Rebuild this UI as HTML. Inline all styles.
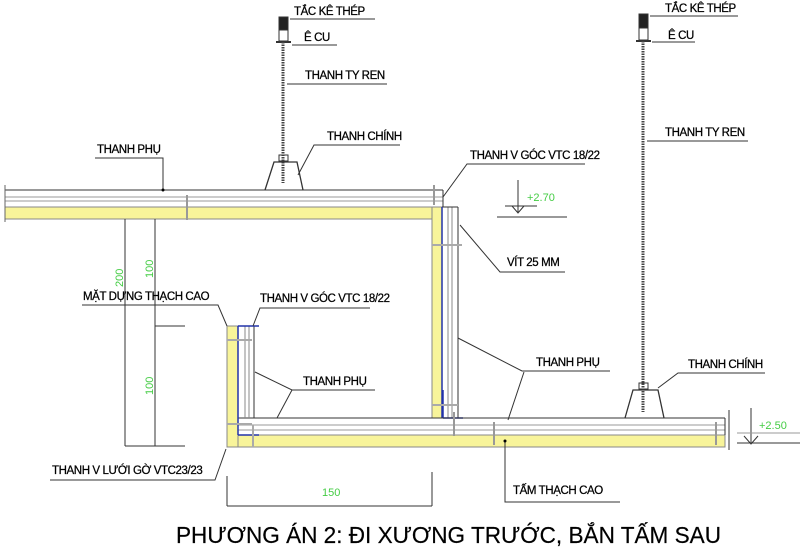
<!DOCTYPE html>
<html><head><meta charset="utf-8"><style>
html,body{margin:0;padding:0;background:#fff;}
svg{display:block;}
text{font-family:"Liberation Sans",sans-serif;font-size:11.5px;fill:#000;letter-spacing:-0.4px;stroke:#000;stroke-width:0.25px;}
.g{fill:#4c4;stroke:none;font-size:11px;letter-spacing:0;}
</style></head><body>
<svg width="800" height="557" viewBox="0 0 800 557" xmlns="http://www.w3.org/2000/svg">
<g stroke="#333" stroke-width="1" fill="none">
<rect x="5" y="207" width="432" height="12" fill="#f8f49a" stroke="#888"/>
<line x1="5" y1="190" x2="443" y2="190"/>
<line x1="5" y1="197" x2="443" y2="197" stroke="#999"/>
<line x1="5" y1="201" x2="443" y2="201" stroke="#999"/>
<line x1="443" y1="190" x2="443" y2="207"/>
<line x1="5" y1="185" x2="5" y2="222" stroke="#666"/>
<line x1="187" y1="195" x2="187" y2="220" stroke="#999" stroke-width="2"/>
<line x1="434" y1="185" x2="434" y2="205" stroke="#999" stroke-width="2"/>
<rect x="432" y="207" width="10" height="211" fill="#f8f49a" stroke="#888"/>
<line x1="448" y1="207" x2="448" y2="418" stroke="#888"/>
<line x1="452" y1="207" x2="452" y2="418" stroke="#888"/>
<line x1="458" y1="207" x2="458" y2="418"/>
<line x1="442" y1="207" x2="458" y2="207"/>
<line x1="442" y1="207" x2="442" y2="418" stroke="#2233aa" stroke-width="1.5"/>
<line x1="443" y1="390" x2="443" y2="418" stroke="#2233aa" stroke-width="1.5"/>
<line x1="443" y1="418" x2="463" y2="418" stroke="#2233aa" stroke-width="1.5"/>
<line x1="432" y1="245" x2="462" y2="245" stroke="#aaa" stroke-width="2"/>
<line x1="432" y1="405" x2="458" y2="405" stroke="#aaa" stroke-width="2"/>
<rect x="227" y="435" width="498" height="12" fill="#f8f49a" stroke="#888"/>
<line x1="238" y1="418" x2="725" y2="418"/>
<line x1="238" y1="425" x2="725" y2="425" stroke="#999"/>
<line x1="238" y1="430" x2="725" y2="430" stroke="#999"/>
<line x1="725" y1="418" x2="725" y2="435"/>
<line x1="494" y1="422" x2="494" y2="445" stroke="#999" stroke-width="2"/>
<line x1="454" y1="412" x2="454" y2="436" stroke="#999" stroke-width="2"/>
<line x1="716" y1="422" x2="716" y2="445" stroke="#999" stroke-width="2"/>
<line x1="729" y1="410" x2="729" y2="450"/>
<rect x="227" y="326" width="11" height="121" fill="#f8f49a" stroke="#888"/>
<line x1="245" y1="326" x2="245" y2="418" stroke="#888"/>
<line x1="249" y1="326" x2="249" y2="418" stroke="#888"/>
<line x1="254" y1="326" x2="254" y2="418"/>
<line x1="238" y1="326" x2="238" y2="435" stroke="#2233aa" stroke-width="1.5"/>
<line x1="238" y1="326" x2="259" y2="326" stroke="#2233aa" stroke-width="1.5"/>
<line x1="238" y1="435" x2="259" y2="435" stroke="#2233aa" stroke-width="1.5"/>
<line x1="227" y1="340" x2="252" y2="340" stroke="#aaa" stroke-width="2"/>
<line x1="227" y1="424" x2="252" y2="424" stroke="#aaa" stroke-width="2"/>
<line x1="253" y1="425" x2="253" y2="447" stroke="#aaa" stroke-width="2"/>
<rect x="279" y="17" width="9" height="13" fill="#222"/>
<rect x="279" y="30" width="9" height="11" fill="#fff"/>
<line x1="276" y1="42" x2="291" y2="42" stroke-width="2"/>
<line x1="283" y1="42" x2="283" y2="183" stroke="#444" stroke-width="3" stroke-dasharray="1.5 1"/>
<path d="M265 190 L274 162 L297 162 L303 190" stroke-width="1.3"/>
<rect x="279" y="155" width="9" height="6" stroke-width="1"/>
<rect x="639" y="14" width="9" height="14" fill="#222"/>
<rect x="639" y="28" width="9" height="12" fill="#fff"/>
<line x1="636" y1="41" x2="651" y2="41" stroke-width="2"/>
<line x1="643" y1="41" x2="643" y2="412" stroke="#444" stroke-width="3" stroke-dasharray="1.5 1"/>
<path d="M625 418 L633 390 L658 390 L664 418" stroke-width="1.3"/>
<rect x="639" y="383" width="9" height="6"/>
<polyline points="290,19 375,19"/>
<polyline points="292,45 337,45"/>
<polyline points="287,84 387,84"/>
<polyline points="298,175 314,145 400,145"/>
<polyline points="650,16 738,16"/>
<polyline points="652,42 695,42"/>
<polyline points="647,141 748,141"/>
<polyline points="658,388 678,373 765,373"/>
<polyline points="163,190 163,158 95,158"/>
<polyline points="443,197 467,164 585,164"/>
<polyline points="460,225 500,272 565,272"/>
<polyline points="458,338 522,371 610,371"/>
<polyline points="508,420 524,372"/>
<polyline points="255,372 292,390 375,390"/>
<polyline points="277,418 292,390"/>
<polyline points="227,326 218,305 82,305"/>
<polyline points="253,326 260,308 370,308"/>
<polyline points="226,449 215,480 50,480"/>
<polyline points="505,441 505,502 620,502"/>
<line x1="125" y1="219" x2="125" y2="446"/>
<line x1="155" y1="219" x2="155" y2="446"/>
<line x1="155" y1="326" x2="185" y2="326"/>
<line x1="125" y1="446" x2="185" y2="446"/>
<line x1="227" y1="476" x2="227" y2="506"/>
<line x1="432" y1="472" x2="432" y2="506"/>
<line x1="227" y1="506" x2="432" y2="506"/>
<line x1="518" y1="180" x2="518" y2="212"/>
<line x1="505" y1="206" x2="537" y2="206"/>
<line x1="497" y1="217" x2="567" y2="217"/>
<path d="M512 206 L518 213 L524 206"/>
<line x1="751" y1="408" x2="751" y2="443"/>
<line x1="737" y1="443" x2="800" y2="443"/>
<line x1="737" y1="433" x2="800" y2="433" stroke="#999"/>
<path d="M744 436 L751 444 L758 436"/>
</g>
<circle cx="163" cy="190" r="1.5" fill="#000"/>
<circle cx="505" cy="441" r="1.5" fill="#000"/>
<text x="294" y="15">TẮC KÊ THÉP</text>
<text x="304" y="41">Ê CU</text>
<text x="305" y="79">THANH TY REN</text>
<text x="327" y="140">THANH CHÍNH</text>
<text x="97" y="153">THANH PHỤ</text>
<text x="470" y="159">THANH V GÓC VTC 18/22</text>
<text x="507" y="266">VÍT 25 MM</text>
<text x="83" y="300">MẶT DỰNG THẠCH CAO</text>
<text x="260" y="302">THANH V GÓC VTC 18/22</text>
<text x="303" y="385">THANH PHỤ</text>
<text x="536" y="366">THANH PHỤ</text>
<text x="688" y="368">THANH CHÍNH</text>
<text x="665" y="12">TẮC KÊ THÉP</text>
<text x="668" y="39">Ê CU</text>
<text x="665" y="136">THANH TY REN</text>
<text x="52" y="474">THANH V LƯỚI GỜ VTC23/23</text>
<text x="513" y="494">TẤM THẠCH CAO</text>
<text class="g" x="527" y="201">+2.70</text>
<text class="g" x="759" y="429">+2.50</text>
<text class="g" x="322" y="496">150</text>
<text class="g" transform="translate(123,287) rotate(-90)">200</text>
<text class="g" transform="translate(153,278) rotate(-90)">100</text>
<text class="g" transform="translate(153,395) rotate(-90)">100</text>
<text x="176" y="543" style="font-size:23px;letter-spacing:0;stroke-width:0.2px" textLength="545" lengthAdjust="spacingAndGlyphs">PHƯƠNG ÁN 2: ĐI XƯƠNG TRƯỚC, BẮN TẤM SAU</text>
</svg>
</body></html>
